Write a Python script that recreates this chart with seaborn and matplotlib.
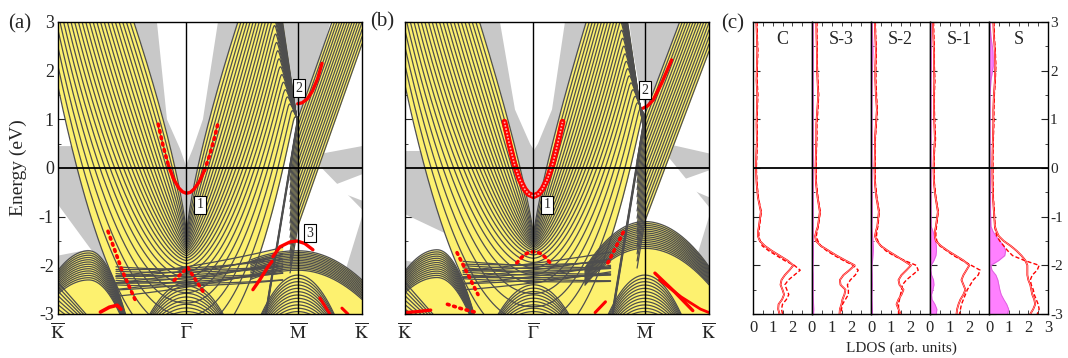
import numpy as np
import pandas as pd
import matplotlib
matplotlib.use("Agg")
import matplotlib.pyplot as plt
import seaborn as sns

sns.set_theme(style="white")
plt.rcParams['font.family'] = ['Liberation Serif', 'DejaVu Serif']
plt.rcParams['mathtext.fontset'] = 'stix'
plt.rcParams['axes.unicode_minus'] = False

# ---------------- k-path ----------------
k_pos = [0.0, 1.0, 1.866, 2.366]
k_labels = [r'$\overline{\mathrm{K}}$', r'$\overline{\Gamma}$', r'$\overline{\mathrm{M}}$', r'$\overline{\mathrm{K}}$']
S_G, S_M, S_K = 1.0, 1.866, 2.366
e_ticks = [-3, -2, -1, 0, 1, 2, 3]
e_ticklabels = ['-3', '-2', '-1', '0', '1', '2', '3']

YELLOW = '#FDF16F'
GRAY = '#C8C8C8'
LINE = '#4E4E4E'
RED = '#FF0000'

# ---------------- panel (a) data ----------------
a_sp_n = 25
a_sp_E0 = [-1.40, -2.15, -3.75]
a_sp_DL = [0.41, 1.10]
a_sp_DR = [0.40, 0.97]
a_sp_pow = [0.75, 2.30]
a_sp_EM = [0.88, 1.00]
a_sp_gs = [18.0, 5.0]
a_st_n = 16
a_st_c = [-1.20, 1.00]
a_st_slope = [16.0, 7.5]
a_bundle = [0.92, 1.04, 16.0, 5, -0.25]
a_hump_K = [0.24, -1.70, -2.30, 7, 5, 16, 12, 14, 0.0, 0.62]
a_fan_K = [-2.35, -2.90, 3.0, 2.0, 7, 0.0, 0.35]
a_flat = [-2.03, 0.20, 0.15, 0.42, 0.22, 16, 0.45, 1.75]
a_hump_M = [1.866, -1.70, -2.10, 1.4, 1.4, 2.4, 2.4, 13, 1.50, 2.366]
a_dome_M = [1.866, -2.20, -2.95, 10, 6, 10, 6, 12, 1.50, 2.366]
a_dome_G = [1.0, -2.35, -2.95, 8, 5, 8, 5, 9, 0.60, 1.40]
a_gray = [
    ([0.48, 1.50, 1.0], [3.2, 3.2, -1.5]),
    ([1.72, 2.14, 2.02, 1.92, 1.875, 1.82, 1.78], [3.2, 3.2, 2.0, 1.3, 1.05, 1.5, 2.3]),
    ([0.0, 0.29, 0.42, 0.25, 0.0], [0.45, 0.45, -2.2, -1.65, -0.75]),
    ([0.0, 0.234, 0.29, 0.0], [-1.8, -1.68, -1.75, -2.2]),
    ([1.96, 2.366, 2.366], [0.25, 0.45, -0.85]),
    ([2.366, 2.366, 2.24, 2.11], [-1.0, -2.4, -3.2, -3.2]),
]
a_white = [
    ([0.765, 0.770, 0.848, 0.949, 0.996, 1.050, 1.128, 1.245, 1.255], [3.3, 3.0, 1.0, 0.4, 0.05, 0.4, 1.0, 3.0, 3.3]),
    ([2.10, 2.366, 2.366], [-0.40, -0.13, -0.67]),
]
a_red_lines = [
    ([0.86, 0.90, 0.94, 0.97, 1.0, 1.03, 1.06, 1.10, 1.14],
     [0.05, -0.23, -0.41, -0.49, -0.52, -0.50, -0.43, -0.28, -0.05], 2.4),
    ([1.866, 1.90, 1.94, 1.98, 2.02, 2.055], [1.32, 1.34, 1.42, 1.58, 1.83, 2.15], 2.4),
    ([1.673, 1.727, 1.805, 1.86, 1.92, 1.984], [-1.82, -1.62, -1.52, -1.50, -1.55, -1.68], 2.4),
    ([1.517, 1.57, 1.634, 1.665], [-2.50, -2.30, -2.03, -1.92], 2.4),
    ([0.33, 0.40, 0.46, 0.49], [-2.96, -2.86, -2.82, -2.90], 2.6),
    ([2.038, 2.116], [-2.67, -3.0], 2.2),
    ([2.21, 2.256], [-2.88, -3.0], 2.2),
]
a_red_dots = [
    ([0.78, 0.82, 0.86], [0.90, 0.43, 0.05]),
    ([1.14, 1.18, 1.22, 1.245], [-0.05, 0.26, 0.64, 0.92]),
    ([0.389, 0.498, 0.599], [-1.30, -2.10, -2.70]),
    ([1.011, 1.144], [-2.05, -2.60]),
    ([0.988, 0.887], [-2.10, -2.35]),
]
a_boxes = [(1.105, -0.75, '1'), (1.875, 1.64, '2'), (1.96, -1.34, '3')]

# ---------------- panel (b) data ----------------
b_sp_n = 25
b_sp_E0 = [-1.40, -1.85, -3.60]
b_sp_DL = [0.42, 1.10]
b_sp_DR = [0.41, 0.98]
b_sp_pow = [0.82, 2.30]
b_sp_EM = [0.60, 1.10]
b_sp_gs = [18.0, 5.0]
b_st_n = 16
b_st_c = [-1.10, 1.10]
b_st_slope = [16.0, 7.0]
b_bundle = [0.95, 1.10, 16.0, 5, -0.25]
b_hump_K = [0.25, -1.68, -2.25, 7, 5, 16, 12, 14, 0.0, 0.62]
b_fan_K = [-2.35, -2.90, 3.0, 2.0, 7, 0.0, 0.35]
b_flat = [-1.96, 0.10, 0.10, 0.40, 0.22, 16, 0.45, 1.60]
b_hump_M = [1.866, -1.10, -1.65, 4.4, 3.5, 3.7, 3.0, 15, 1.40, 2.366]
b_dome_M = [1.866, -2.20, -2.95, 10, 6, 10, 6, 12, 1.50, 2.366]
b_dome_G = [1.0, -2.40, -2.95, 8, 5, 8, 5, 9, 0.60, 1.40]
b_gray = [
    ([0.506, 1.517, 1.0], [3.2, 3.2, -1.5]),
    ([1.735, 2.155, 2.046, 1.945, 1.883, 1.828, 1.774], [3.2, 3.2, 2.0, 1.4, 1.15, 1.6, 2.4]),
    ([0.0, 0.30, 0.50, 0.40, 0.0], [0.35, 0.35, -1.80, -1.45, -0.95]),
    ([0.0, 0.10, 0.0], [-1.90, -1.95, -2.10]),
    ([1.95, 2.366, 2.366], [0.55, 0.30, -0.80]),
    ([2.366, 2.366, 2.24, 2.11], [-1.0, -2.2, -3.2, -3.2]),
]
b_white = [
    ([0.735, 0.739, 0.856, 0.973, 1.004, 1.035, 1.144, 1.245, 1.25], [3.3, 3.0, 1.2, 0.5, 0.37, 0.5, 1.2, 3.0, 3.3]),
    ([2.10, 2.366, 2.366], [-0.30, -0.05, -0.60]),
]
b_red_lines = [
    ([1.854, 1.89, 1.932, 1.997, 2.075], [1.23, 1.28, 1.40, 1.74, 2.22], 2.4),
    ([1.945, 2.10, 2.24], [-2.16, -2.55, -2.93], 2.4),
    ([1.98, 2.15, 2.30, 2.366], [-2.30, -2.65, -2.90, -2.97], 2.0),
    ([0.01, 0.10, 0.20], [-2.97, -2.95, -2.92], 2.4),
    ([1.48, 1.56], [-2.97, -2.75], 2.2),
]
b_red_dots = [
    ([0.405, 0.568], [-1.74, -2.60]),
    ([1.579, 1.712], [-1.95, -1.25]),
    ([0.87, 0.91, 0.95, 1.0, 1.05, 1.09, 1.13], [-1.95, -1.83, -1.75, -1.72, -1.75, -1.83, -1.95]),
    ([0.33, 0.45, 0.56], [-2.80, -2.90, -2.97]),
]
b_ss1_s = [0.774, 0.81, 0.85, 0.89, 0.93, 0.96, 1.0, 1.04, 1.07, 1.11, 1.15, 1.19, 1.226]
b_ss1_E = [0.95, 0.52, 0.09, -0.22, -0.43, -0.53, -0.58, -0.53, -0.43, -0.22, 0.09, 0.52, 0.95]
b_boxes = [(1.109, -0.76, '1'), (1.868, 1.60, '2')]

# ---------------- panel (c) data ----------------
ldos_E = [3.0, 2.7, 2.4, 2.1, 1.8, 1.5, 1.2, 0.9, 0.6, 0.3, 0.0, -0.3, -0.6, -0.9, -1.2, -1.3, -1.4,
          -1.5, -1.6, -1.7, -1.8, -1.9, -2.0, -2.1, -2.2, -2.3, -2.4, -2.5, -2.6, -2.7, -2.8, -2.9, -3.0]
ldos_names = ['C', 'S-3', 'S-2', 'S-1', 'S']
C_solid = [0.17, 0.20, 0.22, 0.20, 0.18, 0.22, 0.20, 0.18, 0.20, 0.17, 0.15, 0.18, 0.25, 0.40, 0.30, 0.26, 0.25,
           0.35, 0.60, 0.95, 1.35, 1.75, 2.05, 1.85, 1.62, 1.45, 1.40, 1.50, 1.58, 1.48, 1.30, 1.28, 1.35]
C_dash = [0.20, 0.22, 0.25, 0.22, 0.21, 0.25, 0.22, 0.20, 0.22, 0.20, 0.17, 0.20, 0.27, 0.42, 0.33, 0.30, 0.30,
          0.36, 0.47, 0.80, 1.20, 1.60, 2.10, 2.40, 2.10, 1.80, 1.62, 1.72, 1.82, 1.70, 1.50, 1.45, 1.50]
C_mag = [0.0] * 33
S3_solid = [0.22, 0.23, 0.25, 0.25, 0.28, 0.32, 0.27, 0.22, 0.22, 0.20, 0.18, 0.20, 0.28, 0.40, 0.30, 0.22, 0.16,
            0.20, 0.45, 0.85, 1.25, 1.70, 2.17, 1.90, 1.60, 1.42, 1.45, 1.70, 1.65, 1.55, 1.50, 1.42, 1.40]
S3_dash = [0.25, 0.25, 0.27, 0.27, 0.30, 0.34, 0.30, 0.25, 0.25, 0.22, 0.20, 0.22, 0.30, 0.42, 0.32, 0.26, 0.22,
           0.30, 0.45, 0.75, 1.15, 1.60, 2.10, 2.35, 2.20, 1.95, 1.80, 1.85, 1.85, 1.70, 1.55, 1.50, 1.50]
S3_mag = [0.06, 0.06, 0.06, 0.06, 0.06, 0.06, 0.06, 0.06, 0.06, 0.06, 0.06, 0.06, 0.06, 0.06, 0.06, 0.06, 0.06,
          0.06, 0.07, 0.07, 0.07, 0.06, 0.05, 0.05, 0.06, 0.06, 0.06, 0.06, 0.06, 0.07, 0.08, 0.09, 0.08]
S2_solid = [0.20, 0.22, 0.25, 0.22, 0.22, 0.25, 0.30, 0.25, 0.20, 0.20, 0.18, 0.20, 0.27, 0.40, 0.32, 0.25, 0.20,
            0.30, 0.50, 0.85, 1.25, 1.65, 2.03, 1.80, 1.55, 1.40, 1.45, 1.65, 1.55, 1.40, 1.30, 1.40, 1.50]
S2_dash = [0.22, 0.24, 0.27, 0.25, 0.25, 0.28, 0.32, 0.27, 0.22, 0.22, 0.20, 0.22, 0.30, 0.42, 0.35, 0.30, 0.28,
           0.35, 0.50, 0.75, 1.15, 1.70, 2.30, 2.40, 2.10, 1.80, 1.60, 1.55, 1.50, 1.45, 1.40, 1.40, 1.40]
S2_mag = [0.06, 0.08, 0.10, 0.08, 0.06, 0.05, 0.05, 0.05, 0.05, 0.05, 0.05, 0.05, 0.06, 0.06, 0.05, 0.06, 0.08,
          0.10, 0.12, 0.12, 0.10, 0.08, 0.05, 0.05, 0.06, 0.06, 0.07, 0.06, 0.05, 0.05, 0.06, 0.07, 0.08]
S1_solid = [0.15, 0.17, 0.20, 0.20, 0.22, 0.20, 0.20, 0.22, 0.25, 0.20, 0.18, 0.20, 0.28, 0.40, 0.30, 0.25, 0.25,
            0.30, 0.55, 0.90, 1.30, 1.70, 2.00, 1.85, 1.70, 1.60, 1.70, 1.80, 1.70, 1.55, 1.45, 1.38, 1.35]
S1_dash = [0.18, 0.20, 0.22, 0.22, 0.25, 0.22, 0.22, 0.25, 0.28, 0.22, 0.20, 0.22, 0.30, 0.42, 0.33, 0.30, 0.30,
           0.35, 0.50, 0.85, 1.20, 1.65, 2.10, 2.55, 2.45, 2.20, 2.05, 1.90, 1.80, 1.70, 1.60, 1.55, 1.50]
S1_mag = [0.05, 0.05, 0.06, 0.06, 0.05, 0.05, 0.05, 0.05, 0.05, 0.05, 0.05, 0.05, 0.05, 0.05, 0.06, 0.15, 0.22,
          0.28, 0.32, 0.33, 0.30, 0.20, 0.06, 0.04, 0.08, 0.18, 0.20, 0.15, 0.08, 0.10, 0.25, 0.35, 0.32]
S_solid = [0.22, 0.25, 0.30, 0.32, 0.30, 0.25, 0.22, 0.22, 0.20, 0.18, 0.17, 0.18, 0.20, 0.25, 0.30, 0.38, 0.50,
           0.75, 1.10, 1.40, 1.65, 1.85, 1.95, 1.95, 1.95, 2.00, 2.10, 2.15, 2.20, 2.30, 2.35, 2.25, 2.10]
S_dash = [0.25, 0.27, 0.32, 0.35, 0.32, 0.27, 0.25, 0.25, 0.22, 0.20, 0.20, 0.20, 0.22, 0.27, 0.30, 0.33, 0.40,
          0.55, 0.75, 0.95, 1.20, 1.80, 2.55, 2.45, 2.20, 2.10, 2.15, 2.25, 2.30, 2.40, 2.50, 2.55, 2.45]
S_mag = [0.05, 0.10, 0.20, 0.22, 0.10, 0.05, 0.05, 0.05, 0.05, 0.05, 0.05, 0.07, 0.08, 0.08, 0.10, 0.20, 0.35,
         0.55, 0.75, 0.85, 0.80, 0.50, 0.10, 0.15, 0.35, 0.45, 0.50, 0.55, 0.62, 0.75, 0.90, 1.00, 0.95]
ldos_solid = [C_solid, S3_solid, S2_solid, S1_solid, S_solid]
ldos_dash = [C_dash, S3_dash, S2_dash, S1_dash, S_dash]
ldos_mag = [C_mag, S3_mag, S2_mag, S1_mag, S_mag]

# ---------------- band helpers ----------------
s_all = np.linspace(0.0, S_K, 1400)


def softmin(a, b, tau=0.12):
    m = np.minimum(a, b)
    return m - tau * np.log(np.exp(-(a - m) / tau) + np.exp(-(b - m) / tau))


def lerp(pair, t):
    return pair[0] + (pair[1] - pair[0]) * t


def sp_family(E0, DL, DR, pw, EM, gsl, n):
    out = []
    d = np.abs(s_all - S_G)
    with np.errstate(all='ignore'):
        for i in range(n):
            t = i / (n - 1)
            e0 = E0[0] + (E0[1] - E0[0]) * t + (E0[2] - E0[1]) * t ** 6
            p = lerp(pw, t)
            fl = e0 + (3 - e0) * (d / lerp(DL, t)) ** p
            fr = e0 + (3 - e0) * (d / lerp(DR, t)) ** p
            g = lerp(EM, t) + lerp(gsl, t) * (S_M - s_all)
            er = softmin(fr, g)
            E = np.where(s_all <= S_G, fl, er)
            E[s_all > S_M + 1e-9] = np.nan
            out.append(E)
    return np.array(out)


def steep_family(c, slope, n, bundle):
    out = []
    ds = s_all - S_M
    for i in range(n):
        ci = lerp(c, i / (n - 1))
        E = np.where(ds < 0, ci + slope[0] * ds, ci + slope[1] * ds)
        E[ds < -0.06] = np.nan
        out.append(E)
    b0, b1, bsl, bn, bstart = bundle
    for i in range(int(bn)):
        ci = b0 + (b1 - b0) * i / (bn - 1)
        E = ci + bsl * ds
        E[(ds < bstart) | (ds > 0)] = np.nan
        out.append(E)
    return np.array(out)


def hump_family(P):
    center, thi, tlo, alh, all_, arh, arl, n, s0, s1 = P
    out = []
    for i in range(int(n)):
        t = i / (n - 1)
        top = thi + (tlo - thi) * t
        aL = alh + (all_ - alh) * t
        aR = arh + (arl - arh) * t
        E = np.where(s_all < center, top - aL * (s_all - center) ** 2, top - aR * (s_all - center) ** 2)
        E[(s_all < s0) | (s_all > s1)] = np.nan
        out.append(E)
    return np.array(out)


def flat_family(P):
    eg, sl, cv, th, cr, n, s0, s1 = P
    out = []
    for i in range(int(n)):
        t = i / (n - 1)
        v = [-1.0, 0.3, 1.0, -0.4, 0.7][i % 5]
        E = eg + sl * (s_all - 1) + cv * (s_all - 1) ** 2 - th * t - cr * v * (s_all - 1)
        E[(s_all < s0) | (s_all > s1)] = np.nan
        out.append(E)
    return np.array(out)


def fan_family(P):
    ehi, elo, bhi, blo, n, s0, s1 = P
    out = []
    for i in range(int(n)):
        t = i / (n - 1)
        E = ehi + (elo - ehi) * t - (bhi + (blo - bhi) * t) * (s_all - s0)
        E[(s_all < s0) | (s_all > s1)] = np.nan
        out.append(E)
    return np.array(out)


def fill_env(ax, lines, bottom=None):
    valid = ~np.all(np.isnan(lines), axis=0)
    hi = np.max(np.where(np.isnan(lines), -np.inf, lines), axis=0)
    lo = np.min(np.where(np.isnan(lines), np.inf, lines), axis=0)
    hi = np.clip(hi, -3.3, 3.3)
    lo = np.clip(lo, -3.3, 3.3) if bottom is None else np.full_like(hi, bottom)
    ax.fill_between(s_all, lo, hi, where=valid, color=YELLOW, lw=0, zorder=2)


def draw_lines(ax, lines):
    for E in lines:
        ax.plot(s_all, np.clip(E, -3.5, 3.5), color=LINE, lw=0.9, zorder=3)


def band_panel(ax, sp, st, humps, flat, fan, gray, white, red_lines, red_dots, boxes, ss_hollow=None, ticklabels=True):
    for gs_, ge_ in gray:
        ax.fill(gs_, ge_, color=GRAY, lw=0, zorder=1)
    for ws_, we_ in white:
        ax.fill(ws_, we_, color='white', lw=0, zorder=1.5)
    F1 = sp_family(*sp)
    F3 = steep_family(*st)
    F2 = np.vstack([hump_family(h) for h in humps] + [flat_family(flat), fan_family(fan)])
    fill_env(ax, F2, bottom=-3.3)
    fill_env(ax, F1)
    fill_env(ax, F3[:-int(st[3][3])])
    draw_lines(ax, F2)
    draw_lines(ax, F1)
    draw_lines(ax, F3)
    for rs, re_, lw in red_lines:
        ax.plot(rs, re_, color=RED, lw=lw, solid_capstyle='round', zorder=4)
    for rs, re_ in red_dots:
        ax.plot(rs, re_, color=RED, lw=2.6, ls=(0, (0.5, 1.3)), dash_capstyle='round', zorder=4)
    if ss_hollow is not None:
        hs, he = ss_hollow
        ax.plot(hs, he, color=RED, lw=4.2, solid_capstyle='round', zorder=4)
        ax.plot(hs, he, color='#FFB0B0', lw=1.2, ls=(0, (1, 1)), zorder=4.1)
    for x in (S_G, S_M):
        ax.axvline(x, color='black', lw=1.0, zorder=5)
    ax.axhline(0, color='black', lw=1.3, zorder=5)
    for bx, by, txt in boxes:
        ax.text(bx, by, txt, fontsize=10, ha='center', va='center', zorder=7,
                bbox=dict(boxstyle='square,pad=0.18', fc='white', ec='black', lw=0.8))
    ax.set_xlim(0, S_K)
    ax.set_ylim(-3, 3)
    ax.set_xticks(k_pos)
    ax.set_xticklabels(k_labels, fontsize=13)
    ax.tick_params(axis='x', length=0, pad=6)
    ax.set_yticks(e_ticks)
    ax.set_yticklabels(e_ticklabels if ticklabels else [''] * 7)
    ax.set_yticks(np.arange(-3, 3.01, 0.5), minor=True)
    ax.tick_params(axis='y', which='major', direction='in', length=5, width=0.8, left=True, labelsize=13,
                   labelleft=ticklabels, pad=3)
    ax.tick_params(axis='y', which='minor', direction='in', length=2.5, width=0.6, left=True)
    for sp_ in ax.spines.values():
        sp_.set_color('black')
        sp_.set_linewidth(1.0)
        sp_.set_zorder(8)


fig = plt.figure(figsize=(10.68, 3.58), dpi=100)
H = 358.0
W = 1068.0
axA = fig.add_axes([58 / W, 44 / H, 304 / W, 292 / H])
axB = fig.add_axes([405 / W, 44 / H, 304 / W, 292 / H])

band_panel(axA,
           (a_sp_E0, a_sp_DL, a_sp_DR, a_sp_pow, a_sp_EM, a_sp_gs, a_sp_n),
           (a_st_c, a_st_slope, a_st_n, a_bundle),
           [a_hump_K, a_hump_M, a_dome_M, a_dome_G], a_flat, a_fan_K,
           a_gray, a_white, a_red_lines, a_red_dots, a_boxes)
band_panel(axB,
           (b_sp_E0, b_sp_DL, b_sp_DR, b_sp_pow, b_sp_EM, b_sp_gs, b_sp_n),
           (b_st_c, b_st_slope, b_st_n, b_bundle),
           [b_hump_K, b_hump_M, b_dome_M, b_dome_G], b_flat, b_fan_K,
           b_gray, b_white, b_red_lines, b_red_dots, b_boxes,
           ss_hollow=(b_ss1_s, b_ss1_E), ticklabels=False)

fig.text(18 / W, 1 - 168 / H, 'Energy (eV)', rotation=90, ha='center', va='center', fontsize=14)
fig.text(8 / W, 1 - 24 / H, '(a)', ha='left', va='center', fontsize=15)
fig.text(370 / W, 1 - 22 / H, '(b)', ha='left', va='center', fontsize=15)
fig.text(721 / W, 1 - 24 / H, '(c)', ha='left', va='center', fontsize=15)

# ---------------- panel (c) ----------------
for i, name in enumerate(ldos_names):
    ax = fig.add_axes([(753 + 59 * i) / W, 44 / H, 59 / W, 292 / H])
    df = pd.DataFrame({'E': ldos_E, 'solid': ldos_solid[i], 'dash': ldos_dash[i], 'mag': ldos_mag[i]})
    if max(ldos_mag[i]) > 0:
        ax.fill_betweenx(df['E'], 0, df['mag'], color='#FF80FF', lw=0, zorder=2)
        ax.plot(df['mag'], df['E'], color='#E060E0', lw=0.7, zorder=2.5)
    sns.lineplot(data=df, x='solid', y='E', sort=False, estimator=None, orient='y', color=RED, lw=1.3, ax=ax, zorder=3)
    sns.lineplot(data=df, x='solid', y='E', sort=False, estimator=None, orient='y', color='#FFD8D8', lw=0.4, ax=ax, zorder=3.1)
    sns.lineplot(data=df, x='dash', y='E', sort=False, estimator=None, orient='y', color=RED, lw=1.0, ax=ax,
                 zorder=3, dashes=False, linestyle=(0, (3, 1.6)))
    ax.axhline(0, color='black', lw=1.3, zorder=5)
    ax.text(1.5, 2.65, name, ha='center', va='center', fontsize=13)
    ax.set_xlim(0, 3)
    ax.set_ylim(-3, 3)
    ax.set_xlabel('')
    ax.set_ylabel('')
    ax.set_xticks([0, 1, 2, 3])
    ax.set_xticklabels(['0', '1', '2', '3' if i == 4 else ''], fontsize=12)
    ax.set_xticks(np.arange(0, 3.01, 0.5), minor=True)
    ax.set_yticks(e_ticks)
    ax.set_yticklabels(e_ticklabels)
    ax.set_yticks(np.arange(-3, 3.01, 0.5), minor=True)
    ax.tick_params(axis='x', which='both', direction='in', top=True, bottom=True, length=3, width=0.6, pad=4)
    ax.tick_params(axis='y', which='major', direction='in', left=True, right=(i == 4), length=5, width=0.8,
                   labelleft=False, labelright=(i == 4), labelsize=11, pad=1.5)
    ax.tick_params(axis='y', which='minor', direction='in', left=True, right=(i == 4), length=2.5, width=0.6)
    for sp_ in ax.spines.values():
        sp_.set_color('black')
        sp_.set_linewidth(1.0)
        sp_.set_zorder(8)

fig.text(901 / W, 1 - 348 / H, 'LDOS (arb. units)', ha='center', va='center', fontsize=11)

fig.savefig('out.png', dpi=100)
